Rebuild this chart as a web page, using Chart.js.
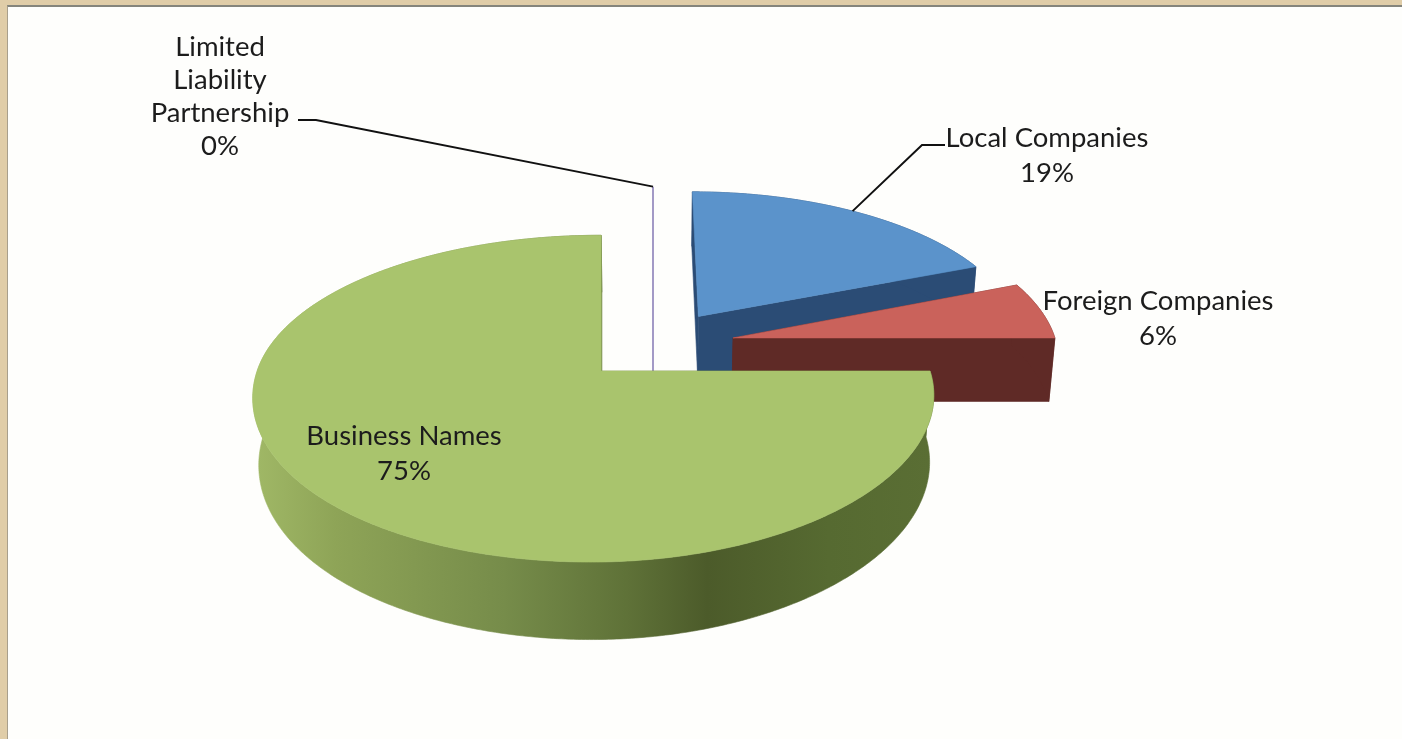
<!DOCTYPE html>
<html>
<head>
<meta charset="utf-8">
<title>Registered entities</title>
<script src="https://cdn.jsdelivr.net/npm/chart.js@4/dist/chart.umd.js"></script>
<style>
  html, body { margin: 0; height: 100%; overflow: hidden; background: #e0cda8; }
  #panel { position: absolute; left: 7px; top: 5px; right: 0; bottom: 0; background: #fefefc;
           border-top: 2px solid #85857c; border-left: 1px solid #a89f8c; }
  #chart { position: absolute; left: 0; top: 0; }
</style>
</head>
<body>
<div id="panel"></div>
<canvas id="chart" width="1402" height="739"></canvas>
<script>
// clockwise from 12 o'clock
const categories = ["Limited Liability Partnership", "Local Companies", "Foreign Companies", "Business Names"];
const shares = [0, 19, 6, 75];

const topColors = ["#8c80b8", "#5b93cb", "#ca625b", "#a9c46d"];
const sideColors = ["#8c80b8", "#2b4c75", "#5f2a26", "#5a6d33"];

// label centres on the page, one per category
const labelCentres = [[220, 97], [1047, 156], [1158, 319], [404, 454]];

// hand fitted camera for the tilted pie
const CX = 653, CY = 346, RX = 326, RY = 154, PERSP = 0.15, DEPTH = 64, SHRINK = 0.985;
const EXPLODE = [0.225, 0.215, 0.25, 0.225];

// the source picture is not a clean projection, so each slice gets small corrections
const FIT = [
  { left: 1, right: 1, up: 1, down: 1, lean: 0, shift: 0, dip: 0, nudge: 0 },
  { left: 1, right: 1, up: 0.98, down: 1, lean: 6, shift: 6, dip: 0, nudge: -0.02 },
  { left: 1, right: 0.995, up: 1, down: 1, lean: 0, shift: 0, dip: 0, nudge: -0.006 },
  { left: 1.03, right: 0.985, up: 0.965, down: 1, lean: 0, shift: 0, dip: 10, nudge: 0 },
];

const project = (slice, du, dv, lower) => {
  const fit = FIT[slice.i];
  const fu = du * (du < 0 ? fit.left : fit.right);
  const fv = dv * (dv < 0 ? fit.up : fit.down);
  const v = slice.v0 + fit.nudge + fv;
  const s = 1 / (1 - PERSP * v);
  let x = CX + RX * slice.u0 + RX * fu * s + fit.lean * dv + fit.shift;
  if (dv > 0) x -= fit.dip * dv * dv;
  let y = CY + RY * v * s;
  if (lower) {
    x = CX + (x - CX) * SHRINK;
    y += DEPTH * s;
  }
  return [x, y];
};

const fillPoly = (ctx, pts, color) => {
  ctx.beginPath();
  pts.forEach((p, i) => (i ? ctx.lineTo(p[0], p[1]) : ctx.moveTo(p[0], p[1])));
  ctx.closePath();
  ctx.fillStyle = color;
  ctx.strokeStyle = color;
  ctx.lineWidth = 0.6;
  ctx.fill();
  ctx.stroke();
};

const sliceGeometry = (arc, i) => {
  const mid = (arc.startAngle + arc.endAngle) / 2;
  return {
    i,
    start: arc.startAngle,
    end: arc.endAngle,
    mid,
    u0: EXPLODE[i] * Math.cos(mid),
    v0: EXPLODE[i] * Math.sin(mid),
  };
};

const rim = (slice, lower) => {
  const pts = [];
  const steps = Math.max(1, Math.ceil((slice.end - slice.start) / 0.01));
  for (let k = 0; k <= steps; k++) {
    const a = slice.start + ((slice.end - slice.start) * k) / steps;
    pts.push(project(slice, Math.cos(a), Math.sin(a), lower));
  }
  return pts;
};

const drawSlice = (ctx, slice) => {
  const top = rim(slice, false);
  const bottom = rim(slice, true);
  const apexTop = project(slice, 0, 0, false);
  const apexBottom = project(slice, 0, 0, true);

  if (slice.end === slice.start) {
    // a 0% slice only shows up as a thin sliver
    ctx.beginPath();
    ctx.moveTo(top[0][0], top[0][1]);
    ctx.lineTo(apexBottom[0], apexBottom[1]);
    ctx.strokeStyle = topColors[slice.i];
    ctx.lineWidth = 1.6;
    ctx.stroke();
    return;
  }

  let wall = sideColors[slice.i];
  if (slice.i === 3) {
    wall = ctx.createLinearGradient(255, 0, 930, 0);
    wall.addColorStop(0, "#a0b866");
    wall.addColorStop(0.12, "#8ea457");
    wall.addColorStop(0.37, "#768c4a");
    wall.addColorStop(0.55, "#5f7238");
    wall.addColorStop(0.67, "#4c5b2a");
    wall.addColorStop(0.85, "#566a31");
    wall.addColorStop(1, "#5a6e34");
  }

  // flat sides, then the outer wall, then the lid
  fillPoly(ctx, [apexTop, top[0], bottom[0], apexBottom], wall);
  fillPoly(ctx, [apexTop, top[top.length - 1], bottom[bottom.length - 1], apexBottom], wall);
  fillPoly(ctx, top.concat(bottom.slice().reverse()), wall);
  fillPoly(ctx, [apexTop].concat(top), topColors[slice.i]);
};

const pie3d = {
  id: "pie3d",
  beforeDatasetsDraw(chart) {
    const ctx = chart.ctx;
    const slices = chart.getDatasetMeta(0).data.map(sliceGeometry);
    ctx.save();
    slices.slice().sort((a, b) => a.v0 - b.v0).forEach((s) => drawSlice(ctx, s));
    ctx.restore();
    chart.$slices = slices;
    return false;
  },
  afterDraw(chart) {
    const ctx = chart.ctx;
    const slices = chart.$slices;
    const total = shares.reduce((a, b) => a + b, 0);

    ctx.save();
    ctx.strokeStyle = "#111";
    ctx.lineWidth = 2;
    // leader lines end on the rim at the middle of the slice
    const leaders = [[1, [[945, 145], [922, 145]]], [0, [[298, 120], [316, 120]]]];
    leaders.forEach(([i, start]) => {
      const s = slices[i];
      const end = project(s, Math.cos(s.mid), Math.sin(s.mid), false);
      ctx.beginPath();
      ctx.moveTo(start[0][0], start[0][1]);
      ctx.lineTo(start[1][0], start[1][1]);
      ctx.lineTo(end[0], end[1]);
      ctx.stroke();
    });

    ctx.font = "27.5px Lato, 'Noto Sans', sans-serif";
    ctx.fillStyle = "#1c1c1c";
    ctx.textAlign = "center";
    ctx.textBaseline = "middle";
    categories.forEach((name, i) => {
      const lines = i === 0 ? name.split(" ") : [name];
      lines.push(Math.round((shares[i] / total) * 100) + "%");
      const step = i === 0 ? 33 : 35;
      const [x, y] = labelCentres[i];
      lines.forEach((t, k) => {
        ctx.fillText(t, x, y + (k - (lines.length - 1) / 2) * step);
      });
    });
    ctx.restore();
  },
};

new Chart(document.getElementById("chart").getContext("2d"), {
  type: "pie",
  data: {
    labels: categories,
    datasets: [{ data: shares, backgroundColor: topColors }],
  },
  options: {
    responsive: false,
    animation: false,
    events: [],
    plugins: { legend: { display: false }, tooltip: { enabled: false } },
  },
  plugins: [pie3d],
});
</script>
</body>
</html>
